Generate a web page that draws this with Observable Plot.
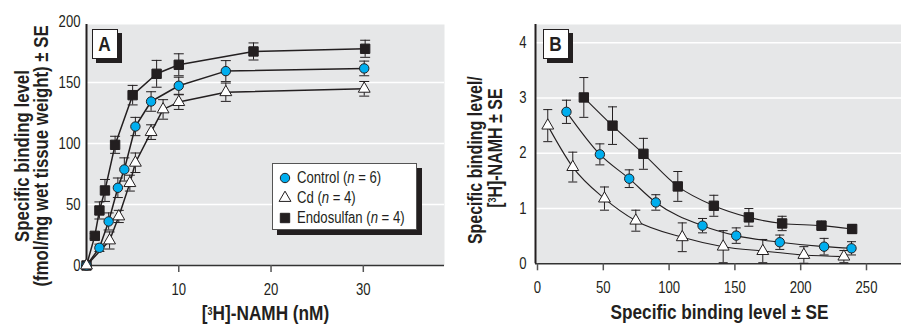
<!DOCTYPE html>
<html>
<head>
<meta charset="utf-8">
<script src="https://cdn.jsdelivr.net/npm/d3@7"></script>
<script src="https://cdn.jsdelivr.net/npm/@observablehq/plot@0.6"></script>
<style>
  body { margin: 0; background: #fff; }
  #wrap { position: relative; width: 901px; height: 325px; overflow: hidden; color: #231f20; }
  .panel { position: absolute; top: 0; }
  .tag { position: absolute; box-sizing: border-box; background: #fff; border: 1px solid #231f20;
         box-shadow: 4px 4px 0 #231f20; font-weight: bold; font-size: 21px; text-align: center; line-height: 28px; }
  .tag span { display: inline-block; }
  .legend { position: absolute; box-sizing: border-box; background: #fff; border: 1px solid #555;
            box-shadow: 5px 5px 0 #231f20; font-size: 16px; }
  .row { position: absolute; left: 0; height: 20px; line-height: 20px; white-space: nowrap; }
  .row svg { position: absolute; left: 4px; top: 2px; }
  .row span { position: absolute; left: 24px; transform-origin: left center; }
</style>
</head>
<body>
<div id="wrap"></div>
<script>
// ---------- Panel A: saturation binding ----------
const aCtrlX  = [0, 1.4, 2.4, 3.4, 4.1, 5.3, 7.0, 10.0, 15.1, 30.1];
const aCtrlY  = [0, 14.5, 36.1, 63.7, 78.7, 113.9, 134.4, 147.3, 159.3, 161.5];
const aCtrlSE = [0, 3, 7, 8, 9.5, 7.5, 8, 7, 8.6, 6];

const aCdX  = [0, 2.5, 3.5, 4.7, 5.3, 7.0, 8.3, 10.0, 15.1, 30.1];
const aCdY  = [0, 20.5, 40.2, 67.5, 84.2, 109.3, 127.9, 133.9, 142.0, 144.8];
const aCdSE = [0, 7, 5, 6.5, 8, 6, 8, 6, 7.5, 6];

const aEndoX  = [0, 0.9, 1.4, 2.0, 3.1, 5.0, 7.6, 10.0, 18.1, 30.2];
const aEndoY  = [0, 24.3, 45.1, 61.5, 98.9, 139.6, 157.1, 164.5, 175.4, 177.6];
const aEndoSE = [0, 2, 7, 9, 7, 8, 11, 9, 7, 7];

const aYTicks = [0, 50, 100, 150, 200];
const aXTicks = [10, 20, 30];

// ---------- Panel B: Scatchard plot ----------
const bCtrlX  = [22.0, 47.4, 69.7, 89.9, 125.4, 151.0, 184.1, 217.8, 238.6];
const bCtrlY  = [2.75, 1.98, 1.54, 1.11, 0.69, 0.51, 0.39, 0.31, 0.28];
const bCtrlSE = [0.21, 0.19, 0.16, 0.14, 0.13, 0.14, 0.13, 0.15, 0.12];

const bCdX  = [7.8, 26.8, 50.9, 74.7, 110.0, 141.1, 171.2, 202.4, 232.8];
const bCdY  = [2.50, 1.75, 1.18, 0.78, 0.48, 0.31, 0.23, 0.16, 0.13];
const bCdSE = [0.29, 0.27, 0.21, 0.19, 0.26, 0.29, 0.21, 0.15, 0.11];

const bEndoX  = [35.2, 57.0, 80.5, 106.6, 134.0, 160.6, 185.9, 215.8, 239.1];
const bEndoY  = [3.01, 2.50, 1.99, 1.40, 1.05, 0.84, 0.73, 0.69, 0.63];
const bEndoSE = [0.36, 0.34, 0.28, 0.27, 0.19, 0.16, 0.13, 0.08, 0.08];

const bYTicks = [0, 1, 2, 3, 4];
const bXTicks = [0, 50, 100, 150, 200, 250];

const seriesNames = ["Control", "Cd", "Endosulfan"];

// ---------- font detection: use a narrow face if present, else condense ----------
function hasFont(name) {
  const c = document.createElement("canvas").getContext("2d");
  const s = "Specific binding level 0123456789";
  c.font = "bold 20px monospace"; const w0 = c.measureText(s).width;
  c.font = `bold 20px '${name}', monospace`; const w1 = c.measureText(s).width;
  return Math.abs(w0 - w1) > 0.5;
}
const narrowName = ["Liberation Sans Narrow", "Arial Narrow"].find(hasFont);
const FONT = narrowName ? `'${narrowName}', sans-serif` : "'Liberation Sans', Arial, sans-serif";
const SQUEEZE = narrowName ? 1 : 0.82;
document.getElementById("wrap").style.fontFamily = FONT;

// ---------- helpers ----------
const INK = "#231f20";
const BG = "#e6e7e8";
const BLUE = "#00aeef";
const SVGNS = "http://www.w3.org/2000/svg";

function rows(name, xs, ys, ses) {
  return xs.map((x, i) => ({series: name, x, y: ys[i], se: ses[i]}));
}
function capSymbol(half) {
  return { draw(ctx) { ctx.moveTo(-half, 0); ctx.lineTo(half, 0); } };
}
const styleOf = {
  Control:    {symbol: "circle",   r: 4.7, fill: BLUE, stroke: INK},
  Cd:         {symbol: "triangle", r: 4.4, fill: "#fff", stroke: INK},
  Endosulfan: {symbol: "square",   r: 5.3, fill: INK, stroke: INK}
};

// raise the "3" of [3H] as a true superscript
function superscript(svg) {
  svg.querySelectorAll("text").forEach(t => {
    if (t.children.length || !t.textContent.includes("³")) return;
    const size = parseFloat(t.getAttribute("font-size")) || 16;
    const [pre, post] = t.textContent.split("³");
    t.textContent = "";
    const a = document.createElementNS(SVGNS, "tspan"); a.textContent = pre;
    const s = document.createElementNS(SVGNS, "tspan"); s.textContent = "3";
    s.setAttribute("font-size", (size * 0.68).toFixed(1)); s.setAttribute("dy", (-size * 0.33).toFixed(1));
    const b = document.createElementNS(SVGNS, "tspan"); b.textContent = post;
    b.setAttribute("dy", (size * 0.33).toFixed(1));
    t.append(a, s, b);
  });
}
function condense(svg) {
  if (SQUEEZE === 1) return;
  svg.querySelectorAll("text").forEach(t => {
    let tr = t.getAttribute("transform");
    if (!tr) {
      const x = +t.getAttribute("x") || 0, y = +t.getAttribute("y") || 0;
      t.removeAttribute("x"); t.removeAttribute("y");
      tr = `translate(${x},${y})`;
    }
    t.setAttribute("transform", `${tr} scale(${SQUEEZE},1)`);
  });
}

function panel({data, width, marginLeft, marginRight, marginBottom, xDomain, yDomain, xTicks, yTicks,
                grid, capHalf, curve, lineWidth, yPad, xTitle, yTitles}) {
  const order = ["Endosulfan", "Control", "Cd"];
  const marks = [
    Plot.frame({fill: BG, stroke: null}),
    Plot.gridY({ticks: grid, stroke: "#fff", strokeOpacity: 1, strokeWidth: 1.6}),
    Plot.ruleY([yDomain[0]], {stroke: "#333", strokeWidth: 1.5}),
    Plot.ruleX([xDomain[0]], {stroke: INK, strokeWidth: 2}),
    Plot.axisY({ticks: yTicks, tickSize: 0, tickPadding: yPad, label: null, fontSize: 16, tickFormat: d3.format("d")}),
    Plot.axisX({ticks: xTicks, tickSize: 7, tickPadding: 11, label: null, fontSize: 16, stroke: "#555", strokeWidth: 1.5, tickFormat: d3.format("d")}),
    Plot.ruleX(data, {x: "x", y1: d => d.y - d.se, y2: d => d.y + d.se, stroke: INK, strokeWidth: 1}),
    Plot.dot(data, {x: "x", y: d => d.y + d.se, symbol: capSymbol(capHalf), stroke: INK, strokeWidth: 1, fill: "none"}),
    Plot.dot(data, {x: "x", y: d => d.y - d.se, symbol: capSymbol(capHalf), stroke: INK, strokeWidth: 1, fill: "none"}),
    Plot.line(data, {x: "x", y: "y", z: "series", stroke: INK, strokeWidth: lineWidth, curve})
  ];
  for (const s of order) {
    const st = styleOf[s];
    marks.push(Plot.dot(data.filter(d => d.series === s), {x: "x", y: "y", ...st, strokeWidth: 1}));
  }
  marks.push(Plot.text([xTitle.text], {frameAnchor: "bottom", dy: xTitle.dy, dx: xTitle.dx || 0, lineAnchor: "middle",
    fontWeight: "bold", fontSize: xTitle.size, fontFamily: FONT, fill: INK}));
  for (const t of yTitles) {
    marks.push(Plot.text([t.text], {frameAnchor: "left", rotate: -90, dx: t.dx, dy: t.dy, lineAnchor: "middle",
      textAnchor: "middle", fontWeight: "bold", fontSize: t.size, fontFamily: FONT, fill: INK}));
  }
  const svg = Plot.plot({
    width, height: 325,
    marginTop: 24, marginLeft, marginRight, marginBottom,
    x: {domain: xDomain},
    y: {domain: yDomain},
    style: {fontFamily: FONT, fontSize: "16px", color: INK, background: "transparent", overflow: "visible"},
    marks
  });
  superscript(svg);
  condense(svg);
  return svg;
}

const dataA = [
  ...rows(seriesNames[2], aEndoX, aEndoY, aEndoSE),
  ...rows(seriesNames[0], aCtrlX, aCtrlY, aCtrlSE),
  ...rows(seriesNames[1], aCdX, aCdY, aCdSE)
];
const dataB = [
  ...rows(seriesNames[2], bEndoX, bEndoY, bEndoSE),
  ...rows(seriesNames[0], bCtrlX, bCtrlY, bCtrlSE),
  ...rows(seriesNames[1], bCdX, bCdY, bCdSE)
];

const plotA = panel({
  data: dataA, width: 450, marginLeft: 86, marginRight: 6, marginBottom: 60,
  xDomain: [0, 38.8], yDomain: [0, 197.5], xTicks: aXTicks, yTicks: aYTicks, grid: [50, 100, 150],
  capHalf: 5, curve: "linear", lineWidth: 1.5, yPad: 6,
  xTitle: {text: "[³H]-NAMH (nM)", dy: 48, size: 21},
  yTitles: [
    {text: "Specific binding level", dx: -64, dy: 11, size: 20.5},
    {text: "(fmol/mg wet tissue weight) ± SE", dx: -45, dy: 11, size: 20.5}
  ]
});
const plotB = panel({
  data: dataB, width: 451, marginLeft: 85, marginRight: 0, marginBottom: 61.7,
  xDomain: [-1.52, 276.6], yDomain: [0, 4.33], xTicks: bXTicks, yTicks: bYTicks, grid: [1, 2, 3, 4],
  capHalf: 4.5, curve: "monotone-x", lineWidth: 1.1, yPad: 9,
  xTitle: {text: "Specific binding level ± SE", dy: 48, dx: 1, size: 21},
  yTitles: [
    {text: "Specific binding level/", dx: -60, dy: 16, size: 19.5},
    {text: "[³H]-NAMH ± SE", dx: -40, dy: 4, size: 19.5}
  ]
});

const wrap = document.getElementById("wrap");
plotA.classList.add("panel"); plotA.style.left = "0px"; plotA.style.position = "absolute";
plotB.classList.add("panel"); plotB.style.left = "450px"; plotB.style.position = "absolute";
wrap.appendChild(plotA);
wrap.appendChild(plotB);

// panel tags
function tag(letter, left, top) {
  const d = document.createElement("div");
  d.className = "tag";
  d.style.left = left + "px"; d.style.top = top + "px";
  d.style.width = "26px"; d.style.height = "30px";
  d.innerHTML = `<span style="transform:scaleX(${SQUEEZE})">${letter}</span>`;
  wrap.appendChild(d);
}
tag("A", 92, 29);
tag("B", 543, 29);

// legend
const legendLabels = [["Control", "6"], ["Cd", "4"], ["Endosulfan", "4"]];
const leg = document.createElement("div");
leg.className = "legend";
leg.style.left = "272px"; leg.style.top = "163px"; leg.style.width = "145px"; leg.style.height = "67px";
legendLabels.forEach(([name, n], i) => {
  const row = document.createElement("div");
  row.className = "row";
  row.style.top = (4 + i * 20) + "px";
  const st = styleOf[name];
  const sym = d3.symbol(st.symbol === "circle" ? d3.symbolCircle : st.symbol === "triangle" ? d3.symbolTriangle : d3.symbolSquare,
                        st.r * st.r * Math.PI)();
  row.innerHTML = `<svg width="16" height="16" viewBox="-8 -8 16 16"><path d="${sym}" fill="${st.fill}" stroke="${INK}" stroke-width="1"/></svg>` +
                  `<span style="transform:scaleX(${SQUEEZE})">${name} (<i>n</i> = ${n})</span>`;
  leg.appendChild(row);
});
wrap.appendChild(leg);
</script>
</body>
</html>
